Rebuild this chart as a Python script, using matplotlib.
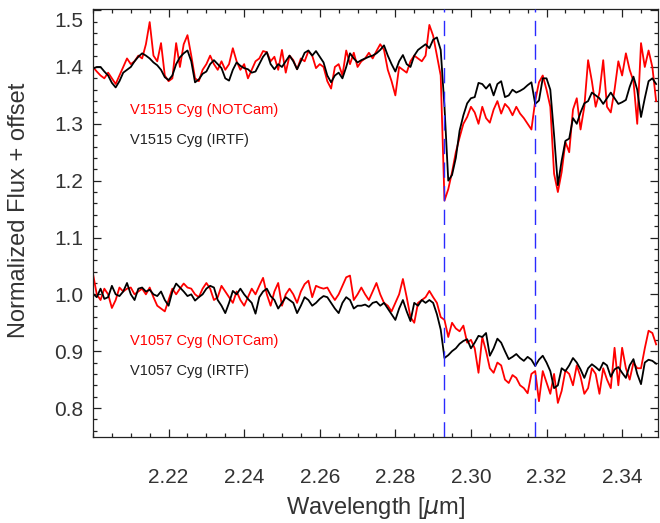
import numpy as np
import matplotlib
matplotlib.use("Agg")
import matplotlib.pyplot as plt
from matplotlib.ticker import MultipleLocator
from matplotlib.transforms import ScaledTranslation

plt.rcParams["font.family"] = ["Liberation Sans", "DejaVu Sans"]
plt.rcParams["mathtext.fontset"] = "dejavusans"

# --- data ---
wavelength = np.linspace(2.200, 2.349, 150)   # micron, 0.001 sampling

v1515_irtf = [
    1.397, 1.400, 1.400, 1.392, 1.385, 1.372, 1.364, 1.375, 1.390, 1.395,
    1.400, 1.410, 1.418, 1.424, 1.420, 1.415, 1.408, 1.403, 1.395, 1.382,
    1.377, 1.385, 1.405, 1.417, 1.424, 1.429, 1.410, 1.373, 1.378, 1.388,
    1.392, 1.405, 1.412, 1.405, 1.398, 1.380, 1.376, 1.395, 1.408, 1.402,
    1.398, 1.396, 1.390, 1.392, 1.405, 1.418, 1.426, 1.405, 1.396, 1.405,
    1.400, 1.410, 1.420, 1.410, 1.396, 1.410, 1.425, 1.429, 1.420, 1.428,
    1.418, 1.408, 1.385, 1.373, 1.385, 1.390, 1.380, 1.400, 1.424, 1.415,
    1.408, 1.412, 1.415, 1.418, 1.420, 1.424, 1.430, 1.438, 1.420, 1.405,
    1.392, 1.410, 1.421, 1.405, 1.400, 1.420, 1.430, 1.435, 1.440, 1.433,
    1.448, 1.452, 1.430, 1.330, 1.200, 1.210, 1.240, 1.288, 1.315, 1.336,
    1.345, 1.347, 1.372, 1.370, 1.362, 1.370, 1.350, 1.370, 1.375, 1.347,
    1.350, 1.360, 1.355, 1.358, 1.362, 1.368, 1.373, 1.335, 1.341, 1.380,
    1.380, 1.360, 1.280, 1.192, 1.235, 1.270, 1.274, 1.310, 1.300, 1.320,
    1.336, 1.340, 1.355, 1.350, 1.345, 1.335, 1.345, 1.355, 1.345, 1.335,
    1.338, 1.342, 1.365, 1.383, 1.360, 1.312, 1.345, 1.375, 1.380, 1.370,
]

v1515_notcam = [
    1.400, 1.392, 1.385, 1.380, 1.390, 1.380, 1.370, 1.385, 1.400, 1.415,
    1.405, 1.410, 1.420, 1.415, 1.440, 1.479, 1.420, 1.410, 1.442, 1.385,
    1.375, 1.380, 1.442, 1.400, 1.440, 1.456, 1.420, 1.380, 1.375, 1.395,
    1.405, 1.420, 1.405, 1.395, 1.410, 1.395, 1.405, 1.433, 1.410, 1.395,
    1.405, 1.380, 1.395, 1.410, 1.415, 1.428, 1.426, 1.410, 1.418, 1.395,
    1.430, 1.390, 1.420, 1.412, 1.396, 1.415, 1.410, 1.428, 1.420, 1.398,
    1.405, 1.400, 1.375, 1.362, 1.400, 1.405, 1.385, 1.429, 1.405, 1.425,
    1.400, 1.410, 1.415, 1.425, 1.415, 1.428, 1.440, 1.430, 1.395, 1.375,
    1.350, 1.400, 1.395, 1.390, 1.410, 1.420, 1.415, 1.410, 1.420, 1.474,
    1.455, 1.420, 1.385, 1.165, 1.185, 1.215, 1.250, 1.276, 1.300, 1.312,
    1.330, 1.320, 1.300, 1.330, 1.310, 1.302, 1.325, 1.340, 1.318, 1.335,
    1.328, 1.315, 1.330, 1.318, 1.310, 1.300, 1.290, 1.340, 1.373, 1.385,
    1.360, 1.330, 1.212, 1.180, 1.215, 1.268, 1.250, 1.325, 1.345, 1.290,
    1.330, 1.412, 1.375, 1.330, 1.355, 1.412, 1.330, 1.320, 1.360, 1.410,
    1.385, 1.424, 1.395, 1.375, 1.300, 1.442, 1.400, 1.429, 1.400, 1.340,
]

v1057_irtf = [
    1.001, 0.995, 1.010, 0.992, 0.995, 1.015, 1.000, 0.997, 1.005, 1.020,
    1.000, 0.990, 1.010, 1.012, 1.005, 1.008, 1.000, 0.997, 1.005, 0.990,
    0.980, 1.005, 1.019, 1.012, 1.005, 0.997, 1.000, 0.989, 0.995, 1.000,
    1.010, 1.015, 1.012, 0.990, 0.980, 0.967, 0.985, 1.006, 1.000, 1.010,
    1.000, 0.992, 0.985, 0.966, 0.995, 1.005, 1.010, 0.997, 0.990, 0.975,
    0.985, 0.995, 0.990, 0.985, 0.967, 0.980, 0.995, 0.990, 0.980, 0.985,
    0.992, 0.997, 0.995, 0.985, 0.975, 0.967, 0.985, 0.995, 0.990, 0.975,
    0.980, 0.980, 0.982, 0.978, 0.985, 0.987, 0.980, 0.985, 0.975, 0.965,
    0.955, 0.975, 0.990, 0.970, 0.953, 0.985, 0.980, 0.990, 0.985, 0.990,
    0.985, 0.965, 0.938, 0.888, 0.893, 0.900, 0.905, 0.913, 0.918, 0.921,
    0.905, 0.915, 0.927, 0.925, 0.932, 0.892, 0.905, 0.922, 0.915, 0.900,
    0.886, 0.890, 0.895, 0.888, 0.883, 0.890, 0.885, 0.874, 0.885, 0.892,
    0.880, 0.865, 0.835, 0.840, 0.870, 0.865, 0.875, 0.888, 0.880, 0.868,
    0.853, 0.870, 0.877, 0.872, 0.866, 0.880, 0.875, 0.855, 0.868, 0.872,
    0.862, 0.853, 0.875, 0.886, 0.860, 0.842, 0.880, 0.885, 0.883, 0.878,
]

v1057_notcam = [
    1.036, 1.000, 0.990, 1.010, 1.000, 0.976, 0.990, 1.012, 1.005, 1.010,
    1.012, 1.000, 1.005, 1.010, 1.000, 1.012, 0.995, 0.980, 0.975, 0.970,
    0.990, 1.010, 1.000, 1.010, 1.019, 1.012, 1.010, 1.000, 0.995, 1.010,
    1.020, 1.010, 0.990, 0.995, 1.015, 1.005, 0.995, 0.985, 1.005, 0.990,
    0.980, 0.995, 1.010, 1.000, 1.015, 1.029, 1.000, 0.980, 1.005, 1.020,
    0.980, 1.000, 1.010, 1.000, 0.985, 1.005, 1.018, 1.024, 0.995, 1.015,
    1.012, 1.010, 1.012, 1.000, 0.990, 1.000, 1.015, 1.030, 1.033, 0.990,
    1.000, 1.012, 1.000, 0.990, 1.005, 1.020, 1.000, 0.985, 0.980, 0.970,
    0.985, 1.000, 1.027, 0.995, 0.960, 0.950, 0.985, 0.990, 0.995, 1.006,
    0.995, 0.985, 0.960, 0.955, 0.925, 0.950, 0.940, 0.935, 0.945, 0.915,
    0.920, 0.905, 0.862, 0.925, 0.900, 0.870, 0.862, 0.880, 0.875, 0.850,
    0.844, 0.858, 0.853, 0.840, 0.835, 0.826, 0.860, 0.865, 0.812, 0.865,
    0.845, 0.825, 0.860, 0.809, 0.830, 0.866, 0.860, 0.840, 0.875, 0.855,
    0.825, 0.835, 0.870, 0.860, 0.825, 0.870, 0.850, 0.835, 0.906, 0.840,
    0.906, 0.870, 0.850, 0.880, 0.870, 0.870, 0.905, 0.936, 0.932, 0.912,
]

co_bandheads = [2.293, 2.317]

labels = ["V1515 Cyg (NOTCam)", "V1515 Cyg (IRTF)",
          "V1057 Cyg (NOTCam)", "V1057 Cyg (IRTF)"]
label_y = [1.325, 1.272, 0.918, 0.866]
label_colors = ["red", "#222222", "red", "#222222"]

# --- plot ---
fig = plt.figure(figsize=(6.6, 5.23), dpi=100)
ax = fig.add_axes([0.1409, 0.1644, 0.8561, 0.8184])

ax.plot(wavelength, v1515_notcam, color="red", lw=1.3)
ax.plot(wavelength, v1515_irtf, color="black", lw=1.3)
ax.plot(wavelength, v1057_notcam, color="red", lw=1.3)
ax.plot(wavelength, v1057_irtf, color="black", lw=1.3)

for wl in co_bandheads:
    ax.axvline(wl, color="#2a2aff", lw=1.0, dashes=(11, 6), zorder=5)

for txt, yy, c in zip(labels, label_y, label_colors):
    ax.text(2.2098, yy, txt, color=c, fontsize=10.5, va="center", ha="left")

ax.set_xlim(2.2, 2.3495)
ax.set_ylim(0.749, 1.502)
ax.set_xticks([2.22, 2.24, 2.26, 2.28, 2.30, 2.32, 2.34])
ax.set_yticks([0.8, 0.9, 1.0, 1.1, 1.2, 1.3, 1.4, 1.5])
ax.xaxis.set_minor_locator(MultipleLocator(0.005))
ax.yaxis.set_minor_locator(MultipleLocator(0.02))
ax.tick_params(which="both", direction="in", top=True, right=True,
               color="#222222", width=0.9)
ax.tick_params(which="major", length=6)
ax.tick_params(which="minor", length=3.2)
ax.tick_params(axis="x", which="major", labelsize=15, pad=22, labelcolor="#333333")
ax.tick_params(axis="y", which="major", labelsize=15, pad=7, labelcolor="#333333")
for sp in ax.spines.values():
    sp.set_linewidth(0.9)
    sp.set_color("#222222")

ax.set_xlabel(r"Wavelength [$\mu$m]", fontsize=17, color="#333333")
ax.set_ylabel("Normalized Flux + offset", fontsize=17, color="#333333")
ax.xaxis.set_label_coords(0.5, -0.135)
ax.yaxis.set_label_coords(-0.112, 0.53)

# top tick label sits a bit lower in the original
top_lab = ax.get_yticklabels()[-1]
top_lab.set_transform(top_lab.get_transform()
                      + ScaledTranslation(0, -0.09, fig.dpi_scale_trans))

fig.savefig("out.png", dpi=100)
